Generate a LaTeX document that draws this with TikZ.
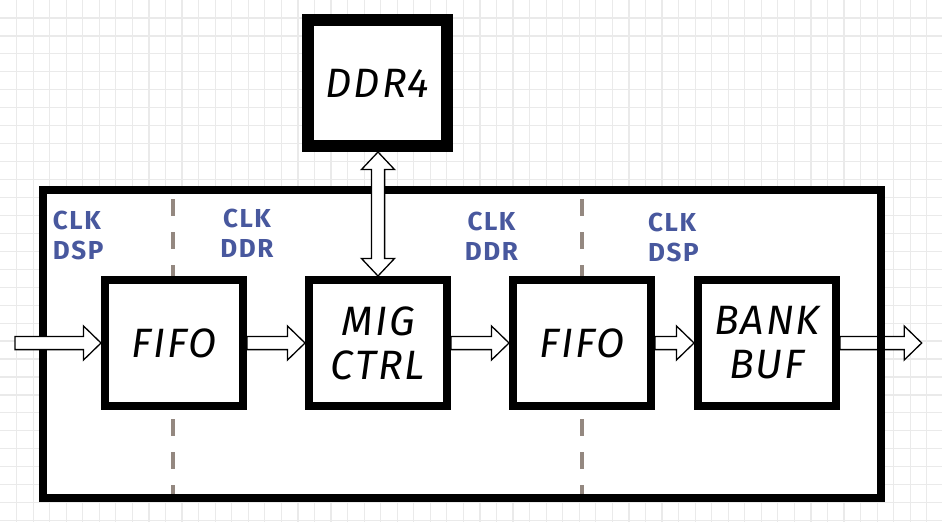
\documentclass[tikz,border=0pt]{standalone}
\usepackage{fontspec}
\setmainfont{Fira Sans}
\usetikzlibrary{calc}
\definecolor{gridc}{RGB}{234,234,234}
\definecolor{clkblue}{RGB}{72,88,158}
\definecolor{dashc}{RGB}{148,136,128}
\tikzset{
  blk/.style={draw=black, line width=8pt, fill=white, minimum width=138pt, minimum height=126pt,
    inner sep=0pt, align=center, font=\fontsize{41}{44}\selectfont\itshape\addfontfeatures{LetterSpace=5}},
  clk/.style={text=clkblue, inner sep=0pt, font=\fontsize{26}{30}\selectfont\bfseries\addfontfeatures{LetterSpace=6}},
  barrow/.style={draw=black, line width=1.3pt, fill=white, line join=miter},
  sepline/.style={draw=dashc, line width=4pt, dash pattern=on 16.5pt off 16.5pt},
  gridline/.style={draw=gridc, line width=1.2pt},
  frame/.style={draw=black, line width=8pt, fill=white, inner sep=0pt}
}
\newcommand\blockarr[2]{%
  \draw[barrow] let \p1=(#1), \p2=(#2) in
    (\x1,\y2+6.6pt) -- (\x2-17.5pt,\y2+6.6pt) -- (\x2-17.5pt,\y2+17pt) -- (\x2,\y2)
    -- (\x2-17.5pt,\y2-17pt) -- (\x2-17.5pt,\y2-6.6pt) -- (\x1,\y2-6.6pt) -- cycle;}
\begin{document}
\begin{tikzpicture}[x=1pt,y=-1pt]
\useasboundingbox (0,0) rectangle (942,522);
\fill[white] (0,0) rectangle (942,522);
\foreach \i in {1,...,56} \draw[gridline] (\i*16.55,0) -- (\i*16.55,522);
\foreach \j in {1,...,29} \draw[gridline] (0,\j*17.95) -- (942,\j*17.95);

% system frame
\node[frame, minimum width=837.5pt, minimum height=308pt] (sys) at (461.75,344) {};

% clock-domain separators
\draw[sepline] (173,199) -- (173,276);
\draw[sepline] (173,419) -- (173,494);
\draw[sepline] (581.5,199) -- (581.5,276);
\draw[sepline] (581.5,419) -- (581.5,494);

% blocks
\node[blk] (fifo1) at (174,343) {FIFO};
\node[blk] (mig) at (378,343) {MIG\\CTRL};
\node[blk] (fifo2) at (582,343) {FIFO};
\node[blk] (bank) at (767,343) {BANK\\BUF};
\node[blk, line width=12pt, minimum width=139pt, minimum height=126pt] (ddr) at (377.5,83) {DDR4};

% clock labels
\node[clk, align=left, anchor=west] (c1) at (52.7,235.3) {CLK\\DSP};
\node[clk, align=center] (c2) at (247,233.7) {CLK\\DDR};
\node[clk, align=center] (c3) at (491.5,236) {CLK\\DDR};
\node[clk, align=left, anchor=west] (c4) at (648,237.5) {CLK\\DSP};

% data path
\coordinate (in) at (15,343);
\coordinate (out) at (921.7,343);
\blockarr{in}{fifo1.west}
\blockarr{fifo1.east}{mig.west}
\blockarr{mig.east}{fifo2.west}
\blockarr{fifo2.east}{bank.west}
\blockarr{bank.east}{out}
\draw[line width=8pt] ([xshift=-4pt]sys.north east) -- ([xshift=-4pt]sys.south east);

% DDR4 <-> MIG
\draw[barrow] let \p1=(ddr.south), \p2=(mig.north) in
  (\x2,\y1) -- (\x2+16.5pt,\y1-17.5pt) -- (\x2+6.6pt,\y1-17.5pt) -- (\x2+6.6pt,\y2+17.5pt)
  -- (\x2+16.5pt,\y2+17.5pt) -- (\x2,\y2) -- (\x2-16.5pt,\y2+17.5pt) -- (\x2-6.6pt,\y2+17.5pt)
  -- (\x2-6.6pt,\y1-17.5pt) -- (\x2-16.5pt,\y1-17.5pt) -- cycle;
\end{tikzpicture}
\end{document}
